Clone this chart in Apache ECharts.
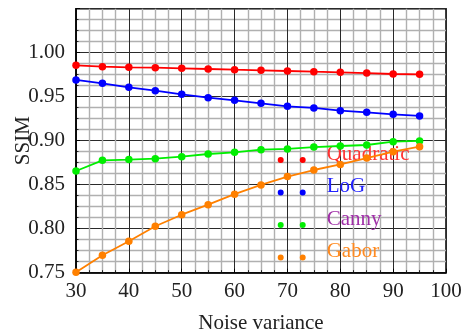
<!DOCTYPE html>
<html>
<head>
<meta charset="utf-8">
<script src="https://cdn.jsdelivr.net/npm/echarts@6/dist/echarts.min.js"></script>
<style>
  html, body { margin: 0; padding: 0; background: #fff; }
  #chart { width: 468px; height: 334px; }
</style>
</head>
<body>
<div id="chart"></div>
<script>
// SSIM of each edge detector versus noise variance
const noiseVariance = [30, 35, 40, 45, 50, 55, 60, 65, 70, 75, 80, 85, 90, 95];
const quadratic = [0.9856, 0.9841, 0.9834, 0.9830, 0.9822, 0.9815, 0.9807, 0.9800, 0.9792, 0.9784, 0.9777, 0.9769, 0.9758, 0.9754];
const logFilter = [0.9690, 0.9652, 0.9606, 0.9569, 0.9527, 0.9489, 0.9459, 0.9425, 0.9391, 0.9372, 0.9341, 0.9322, 0.9300, 0.9281];
const canny = [0.8656, 0.8777, 0.8785, 0.8796, 0.8819, 0.8849, 0.8868, 0.8898, 0.8906, 0.8928, 0.8940, 0.8951, 0.8989, 0.8997];
const gabor = [0.7504, 0.7698, 0.7857, 0.8028, 0.8159, 0.8273, 0.8392, 0.8497, 0.8592, 0.8667, 0.8730, 0.8803, 0.8875, 0.8932];

const seriesNames = ['Quadratic', 'LoG', 'Canny', 'Gabor'];
const seriesValues = [quadratic, logFilter, canny, gabor];
const lineColors = ['#ff0000', '#0000ff', '#00ee00', '#ff8000'];
const legendTextColors = ['#ff3333', '#2222ff', '#a030a8', '#ff8a20'];

const FONT = "'Liberation Serif', 'DejaVu Serif', serif";
const twoDots = 'path://M0,3a3,3 0 1,0 6,0a3,3 0 1,0 -6,0ZM22,3a3,3 0 1,0 6,0a3,3 0 1,0 -6,0Z';

const chart = echarts.init(document.getElementById('chart'), null, { renderer: 'canvas' });

const axisCommon = {
  axisLine: { show: true, lineStyle: { color: '#000', width: 1.5 } },
  axisTick: { show: true, inside: true, length: 4, lineStyle: { color: '#000', width: 1 } },
  minorTick: { show: true, splitNumber: 4, length: 2.5, lineStyle: { color: '#000', width: 0.8 } },
  splitLine: { show: true, lineStyle: { color: '#2a2a2a', width: 1 } },
  minorSplitLine: { show: true, lineStyle: { color: '#b0b0b0', width: 1.4 } },
  nameMoveOverlap: false,
  nameTextStyle: { fontFamily: FONT, fontSize: 21, color: '#222' }
};

chart.setOption({
  animation: false,
  backgroundColor: '#fff',
  grid: {
    left: 76, right: 22, top: 8.7, bottom: 61.3,
    show: true, borderColor: '#000', borderWidth: 1.5, backgroundColor: 'transparent',
    containLabel: false,
    outerBoundsMode: 'none'
  },
  xAxis: Object.assign({}, axisCommon, {
    type: 'value',
    min: 30, max: 100, interval: 10,
    name: 'Noise variance',
    nameLocation: 'middle',
    nameGap: 40,
    axisLabel: { fontFamily: FONT, fontSize: 21, color: '#222', margin: 8 }
  }),
  yAxis: Object.assign({}, axisCommon, {
    type: 'value',
    min: 0.75, max: 1.05, interval: 0.05,
    name: 'SSIM',
    nameLocation: 'middle',
    nameGap: 42,
    axisLabel: {
      fontFamily: FONT, fontSize: 21, color: '#222', margin: 11,
      showMaxLabel: false,
      formatter: v => v.toFixed(2)
    }
  }),
  legend: {
    orient: 'vertical',
    left: 277.7,
    top: 143.5,
    padding: 0,
    z: 1,
    itemGap: 5,
    itemWidth: 28,
    itemHeight: 6,
    icon: twoDots,
    // label sits a little above its two marker dots
    formatter: name => '{t|' + name + '}\n{s| }',
    textStyle: {
      fontFamily: FONT, fontSize: 21,
      rich: {
        t: { fontFamily: FONT, fontSize: 21, lineHeight: 21, padding: [0, 0, 0, 16] },
        s: { fontSize: 1, lineHeight: 12 }
      }
    },
    data: seriesNames.map((n, i) => ({ name: n, textStyle: { color: legendTextColors[i] } }))
  },
  series: seriesNames.map((name, i) => ({
    name,
    type: 'line',
    z: 3,
    data: noiseVariance.map((x, j) => [x, seriesValues[i][j]]),
    symbol: 'circle',
    symbolSize: 7.5,
    showSymbol: true,
    lineStyle: { color: lineColors[i], width: 1.8 },
    itemStyle: { color: lineColors[i] }
  }))
});
</script>
</body>
</html>
